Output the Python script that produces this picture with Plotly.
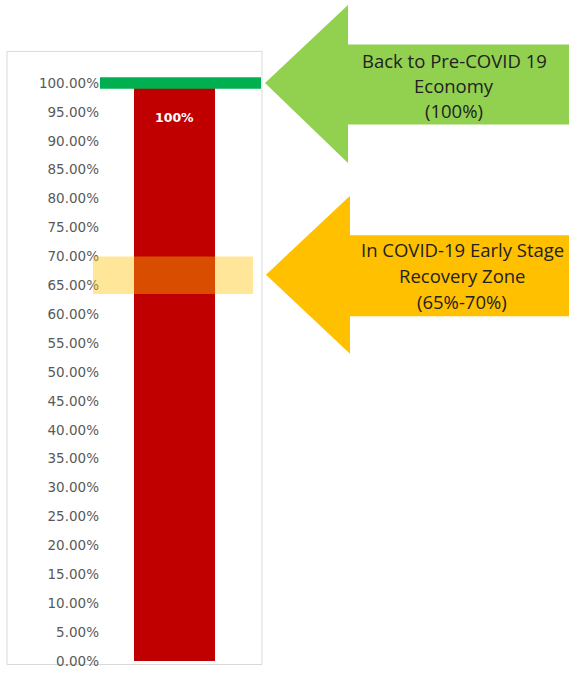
import plotly.graph_objects as go

# ---- data ----
categories = [0]
values = [100]
value_labels = ["100%"]
target_level = 100
recovery_zone = [63.5, 70]
tick_values = [0, 5, 10, 15, 20, 25, 30, 35, 40, 45, 50, 55, 60, 65, 70, 75, 80, 85, 90, 95, 100]
tick_labels = ["0.00%", "5.00%", "10.00%", "15.00%", "20.00%", "25.00%", "30.00%", "35.00%",
               "40.00%", "45.00%", "50.00%", "55.00%", "60.00%", "65.00%", "70.00%", "75.00%",
               "80.00%", "85.00%", "90.00%", "95.00%", "100.00%"]
callout_top = ["Back to Pre-COVID 19", "Economy", "(100%)"]
callout_mid = ["In COVID-19 Early Stage", "Recovery Zone", "(65%-70%)"]

W, H = 569, 673


def fx(px):
    return px / W


def fy(py):
    return 1 - py / H


fig = go.Figure()
fig.add_trace(go.Bar(
    x=categories, y=values, width=0.5,
    marker=dict(color="#C00000", line=dict(width=0)),
    hoverinfo="skip", showlegend=False,
))

plot_l, plot_r = 100, 262
pw = plot_r - plot_l

# chart frame
fig.add_shape(type="rect", xref="paper", yref="paper",
              x0=fx(7), x1=fx(262), y0=fy(672.5), y1=fy(52),
              line=dict(color="#D9D9D9", width=1), fillcolor="rgba(0,0,0,0)", layer="below")

# recovery zone band
fig.add_shape(type="rect", xref="x domain", yref="y",
              x0=-7 / pw, x1=153 / pw, y0=recovery_zone[0], y1=recovery_zone[1],
              line=dict(width=0), fillcolor="rgba(255,192,0,0.4)", layer="above")

# target line
fig.add_shape(type="rect", xref="x domain", yref="y",
              x0=0, x1=161 / pw, y0=target_level - 1, y1=target_level + 1,
              line=dict(width=0), fillcolor="#00B050", layer="above")


def arrow(tip_x, tip_y, base_x, head_top, head_bot, sh_top, sh_bot, right, color):
    pts = [(tip_x, tip_y), (base_x, head_top), (base_x, sh_top), (right, sh_top),
           (right, sh_bot), (base_x, sh_bot), (base_x, head_bot)]
    p = "M " + " L ".join(f"{fx(x):.5f},{fy(y):.5f}" for x, y in pts) + " Z"
    fig.add_shape(type="path", xref="paper", yref="paper", path=p,
                  fillcolor=color, line=dict(width=0), layer="above")


arrow(265, 84, 348, 5, 165, 45, 126, 572, "#92D050")
arrow(266, 278, 350, 198, 358, 238, 320, 572, "#FFC000")


def callout(lines, cx, y_first, step):
    for i, t in enumerate(lines):
        fig.add_annotation(xref="paper", yref="paper", x=fx(cx), y=fy(y_first + i * step),
                           text=t, showarrow=False,
                           font=dict(family="Open Sans", size=18.5, color="#222222"),
                           align="center", xanchor="center", yanchor="middle")


callout(callout_top, 454, 61, 25.5)
callout(callout_mid, 462, 253, 26)

# bar value label
fig.add_annotation(x=categories[0], y=values[0], text=f"<b>{value_labels[0]}</b>",
                   showarrow=False, yshift=-34,
                   font=dict(family="DejaVu Sans", size=12.5, color="white"))

fig.update_layout(
    width=W, height=H,
    margin=dict(l=0, r=0, t=0, b=0),
    paper_bgcolor="white", plot_bgcolor="white",
    xaxis=dict(domain=[fx(plot_l), fx(plot_r)], range=[-74.5 / pw, 1 - 74.5 / pw],
               showgrid=False, zeroline=False, showticklabels=False, showline=False,
               fixedrange=True),
    yaxis=dict(domain=[fy(669), fy(669 - 102 * 5.85)], range=[0, 102],
               tickvals=tick_values, ticktext=tick_labels, ticklabeloverflow="allow",
               tickfont=dict(family="DejaVu Sans", size=13.5, color="#595959"),
               showgrid=False, zeroline=False, showline=False, ticks=""),
    bargap=0,
)

fig.write_html(
    "out.html",
    config={"displayModeBar": False},
    post_script=(
        "document.body.style.margin='0';document.body.style.overflow='hidden';"
        "document.querySelectorAll('.plotly-graph-div, .svg-container, .main-svg')"
        ".forEach(function(e){e.style.overflow='hidden';});"
    ),
)
